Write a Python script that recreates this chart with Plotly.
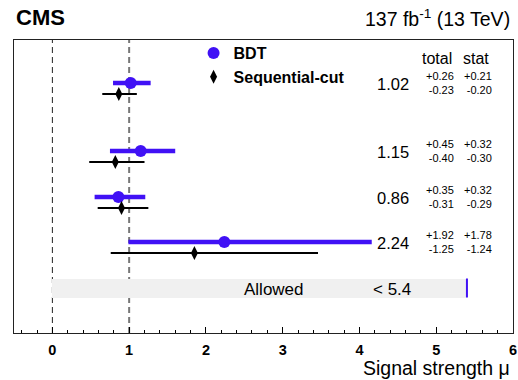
import plotly.graph_objects as go

# ---------------- data ----------------
series_names = ["BDT", "Sequential-cut"]
bdt_mu = [1.02, 1.15, 0.86, 2.24]
bdt_tot_up = [0.26, 0.45, 0.35, 1.92]
bdt_tot_dn = [0.23, 0.40, 0.31, 1.25]
bdt_stat_up = [0.21, 0.32, 0.32, 1.78]
bdt_stat_dn = [0.20, 0.30, 0.29, 1.24]
seq_mu = [0.865, 0.82, 0.90, 1.85]
seq_lo = [0.65, 0.48, 0.59, 0.76]
seq_hi = [1.10, 1.20, 1.25, 3.46]
limit_value = 5.4
limit_label = "Allowed"
x_ticks = [0, 1, 2, 3, 4, 5, 6]

# ---------------- layout constants ----------------
W, H = 518, 380
L, R, T, B = 14, 1, 40, 47
PW, PH = W - L - R, H - T - B
FONT = "Liberation Sans, Arial, Helvetica, sans-serif"
BLUE = "#4011f5"

row_y = [43, 111, 157, 202]   # vertical slot of each row (pixels below frame top)
seq_dy = 11
allowed_y, allowed_h = 248, 19


def px(xp):
    return (xp - L) / PW


def py(yp):
    return 1 - (yp - T) / PH


fig = go.Figure()

# Allowed band
fig.add_trace(go.Bar(x=[limit_value], y=[allowed_y], base=0, orientation="h", width=allowed_h,
                     marker=dict(color="#f0f0f0", line=dict(width=0)), showlegend=False,
                     hoverinfo="skip"))
fig.add_trace(go.Scatter(x=[limit_value, limit_value],
                         y=[allowed_y - allowed_h / 2, allowed_y + allowed_h / 2],
                         mode="lines", line=dict(color=BLUE, width=2), showlegend=False,
                         hoverinfo="skip"))

# BDT
fig.add_trace(go.Scatter(
    x=bdt_mu, y=row_y, mode="markers", name=series_names[0],
    marker=dict(symbol="circle", size=12, color=BLUE),
    error_x=dict(type="data", symmetric=False, array=bdt_tot_up, arrayminus=bdt_tot_dn,
                 color=BLUE, thickness=4.5, width=0)))

# Sequential-cut
seq_y = [y + seq_dy for y in row_y]
fig.add_trace(go.Scatter(
    x=seq_mu, y=seq_y, mode="markers", name=series_names[1],
    marker=dict(symbol="diamond-tall", size=10, color="black"),
    error_x=dict(type="data", symmetric=False,
                 array=[h - m for h, m in zip(seq_hi, seq_mu)],
                 arrayminus=[m - l for m, l in zip(seq_mu, seq_lo)],
                 color="black", thickness=2, width=0)))

shapes = [
    dict(type="line", xref="x", yref="paper", x0=0, x1=0, y0=0, y1=1, layer="below",
         line=dict(color="#222222", width=1, dash="6px,4px")),
    dict(type="line", xref="x", yref="paper", x0=1, x1=1, y0=0, y1=1, layer="below",
         line=dict(color="#777777", width=2, dash="6px,4px")),
]

ann = []


def add_text(text, x, y, size, xanchor="center", yref="paper", bold=False, align="center",
             yanchor="middle"):
    ann.append(dict(text=text, x=x, y=y, xref="paper", yref=yref, xanchor=xanchor,
                    yanchor=yanchor, showarrow=False, align=align,
                    font=dict(family=FONT, size=size, color="black",
                              weight="bold" if bold else "normal")))


add_text("CMS", px(14), py(18), 22, xanchor="left", bold=True)
add_text("137 fb<sup>-1</sup> (13 TeV)", px(516), py(18), 19.5, xanchor="right")
add_text("Signal strength μ", px(516), py(381), 19.5, xanchor="right", yanchor="bottom")
add_text("total", px(440.5), py(58), 16)
add_text("stat", px(480), py(58), 16)

for i in range(len(bdt_mu)):
    yy = row_y[i]
    add_text(f"{bdt_mu[i]:.2f}", px(414), yy + 1, 16.5, xanchor="right", yref="y")
    add_text(f"+{bdt_tot_up[i]:.2f}<br>-{bdt_tot_dn[i]:.2f}", px(459.5), yy - 0.5, 11,
             xanchor="right", yref="y", align="right")
    add_text(f"+{bdt_stat_up[i]:.2f}<br>-{bdt_stat_dn[i]:.2f}", px(498), yy - 0.5, 11,
             xanchor="right", yref="y", align="right")

add_text(limit_label, px(276.5), allowed_y + 1, 17, yref="y")
add_text(f"< {limit_value}", px(395.5), allowed_y + 1, 17, yref="y")

fig.update_layout(
    width=W, height=H,
    margin=dict(l=L, r=R, t=T, b=B, pad=0),
    paper_bgcolor="white", plot_bgcolor="white",
    font=dict(family=FONT, color="black"),
    showlegend=True,
    legend=dict(x=px(195), y=py(36), xanchor="left", yanchor="top",
                bgcolor="rgba(0,0,0,0)", borderwidth=0,
                font=dict(family=FONT, size=16, weight="bold", color="black"),
                itemsizing="trace", tracegroupgap=0),
    shapes=shapes,
    annotations=ann,
    bargap=0,
)

fig.update_xaxes(range=[-0.5, 6], tickvals=x_ticks, ticks="inside", ticklen=6,
                 tickcolor="black", tickwidth=1,
                 minor=dict(dtick=0.2, ticks="inside", ticklen=3, tickcolor="black", tickwidth=1),
                 showline=True, linecolor="#222222", linewidth=1, mirror=True,
                 showgrid=False, zeroline=False,
                 tickfont=dict(family=FONT, size=14.5, weight="bold", color="black"),
                 ticklabelstandoff=4, ticklabeloverflow="allow")
fig.update_yaxes(range=[PH, 0], showticklabels=False, ticks="", showline=True,
                 linecolor="#222222", linewidth=1, mirror=True, showgrid=False,
                 zeroline=False)

fig.write_html("out.html")
